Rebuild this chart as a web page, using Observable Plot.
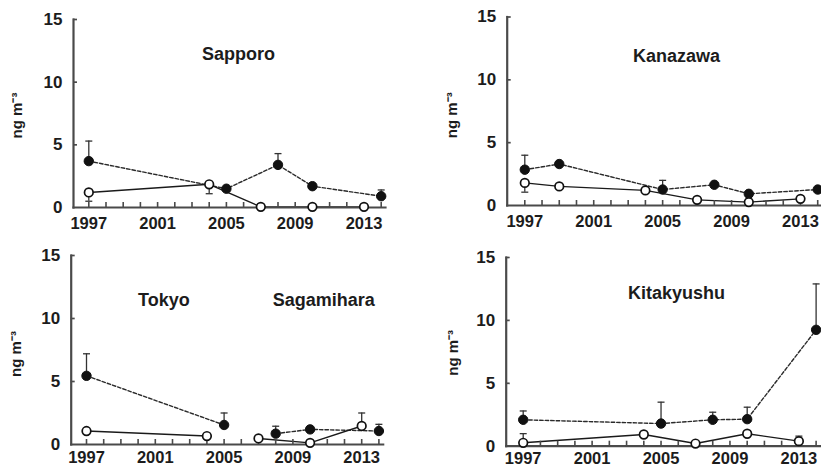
<!DOCTYPE html>
<html>
<head>
<meta charset="utf-8">
<script src="https://cdn.jsdelivr.net/npm/d3@7"></script>
<script src="https://cdn.jsdelivr.net/npm/@observablehq/plot@0.6"></script>
<style>
  body { margin: 0; background: #fff; }
  #chart { position: relative; width: 821px; height: 468px; overflow: hidden; background: #fff; }
  #chart > div { position: absolute; }
  #chart svg { max-width: none !important; }
</style>
</head>
<body>
<div id="chart"></div>
<script>
// ---- data: annual means (ng m-3); "End" arrays give the top/bottom of each error bar ----
const tickYears = d3.range(1997, 2015);
const labelYears = [1997, 2001, 2005, 2009, 2013];
const yTicks = [0, 5, 10, 15];

// Sapporo
const sapporoFilledYears = [1997, 2005, 2008, 2010, 2014];
const sapporoFilled      = [3.7, 1.5, 3.4, 1.7, 0.9];
const sapporoFilledEnd   = [5.3, null, 4.3, null, 1.4];
const sapporoOpenYears   = [1997, 2004, 2007, 2010, 2013];
const sapporoOpen        = [1.2, 1.85, 0.05, 0.05, 0.05];
const sapporoOpenEnd     = [0.5, 1.1, null, null, null];

// Kanazawa
const kanazawaFilledYears = [1997, 1999, 2005, 2008, 2010, 2014];
const kanazawaFilled      = [2.85, 3.3, 1.27, 1.65, 0.93, 1.27];
const kanazawaFilledEnd   = [4.0, null, 2.0, null, null, null];
const kanazawaOpenYears   = [1997, 1999, 2004, 2007, 2010, 2013];
const kanazawaOpen        = [1.8, 1.52, 1.2, 0.45, 0.27, 0.53];
const kanazawaOpenEnd     = [1.06, null, null, null, null, null];

// Tokyo
const tokyoFilledYears = [1997, 2005];
const tokyoFilled      = [5.45, 1.55];
const tokyoFilledEnd   = [7.2, 2.5];
const tokyoOpenYears   = [1997, 2004];
const tokyoOpen        = [1.07, 0.67];
const tokyoOpenEnd     = [null, null];

// Sagamihara
const sagamiharaFilledYears = [2008, 2010, 2014];
const sagamiharaFilled      = [0.86, 1.2, 1.07];
const sagamiharaFilledEnd   = [1.45, null, 1.6];
const sagamiharaOpenYears   = [2007, 2010, 2013];
const sagamiharaOpen        = [0.48, 0.13, 1.47];
const sagamiharaOpenEnd     = [null, null, 2.5];

// Kitakyushu
const kitakyushuFilledYears = [1997, 2005, 2008, 2010, 2014];
const kitakyushuFilled      = [2.1, 1.8, 2.1, 2.15, 9.25];
const kitakyushuFilledEnd   = [2.8, 3.5, 2.7, 3.1, 12.9];
const kitakyushuOpenYears   = [1997, 2004, 2007, 2010, 2013];
const kitakyushuOpen        = [0.27, 0.93, 0.21, 0.99, 0.4];
const kitakyushuOpenEnd     = [1.0, null, null, null, 0.8];

const yLabel = "ng m\u207B\u00B3";

// ---- build tidy rows ----
function rows(site, kind, years, values, ends) {
  return years.map((year, i) => ({site, kind, year, value: values[i], end: ends[i]}));
}
const sites = {
  Sapporo: [
    ...rows("Sapporo", "filled", sapporoFilledYears, sapporoFilled, sapporoFilledEnd),
    ...rows("Sapporo", "open", sapporoOpenYears, sapporoOpen, sapporoOpenEnd)
  ],
  Kanazawa: [
    ...rows("Kanazawa", "filled", kanazawaFilledYears, kanazawaFilled, kanazawaFilledEnd),
    ...rows("Kanazawa", "open", kanazawaOpenYears, kanazawaOpen, kanazawaOpenEnd)
  ],
  Tokyo: [
    ...rows("Tokyo", "filled", tokyoFilledYears, tokyoFilled, tokyoFilledEnd),
    ...rows("Tokyo", "open", tokyoOpenYears, tokyoOpen, tokyoOpenEnd)
  ],
  Sagamihara: [
    ...rows("Sagamihara", "filled", sagamiharaFilledYears, sagamiharaFilled, sagamiharaFilledEnd),
    ...rows("Sagamihara", "open", sagamiharaOpenYears, sagamiharaOpen, sagamiharaOpenEnd)
  ],
  Kitakyushu: [
    ...rows("Kitakyushu", "filled", kitakyushuFilledYears, kitakyushuFilled, kitakyushuFilledEnd),
    ...rows("Kitakyushu", "open", kitakyushuOpenYears, kitakyushuOpen, kitakyushuOpenEnd)
  ]
};

// ---- panel layout (pixels within each panel) ----
const panels = [
  {left: 0,   top: 0,   width: 410, axisX: 73,   x1997: 88.3,  step: 17.2,  y15: 19,   y0: 207,
   labelX: 21, labelDy: 2, pad: 10, titles: [{name: "Sapporo", x: 2005.7, y: 11.8}], sites: ["Sapporo"]},
  {left: 410, top: 0,   width: 430, axisX: 96.7, x1997: 114.3, step: 17.23, y15: 16.5, y0: 205,
   labelX: 47, labelDy: 4, pad: 10, titles: [{name: "Kanazawa", x: 2005.8, y: 11.4}], sites: ["Kanazawa"]},
  {left: 0,   top: 234, width: 410, axisX: 70.7, x1997: 86,    step: 17.2,  y15: 21,   y0: 210,
   labelX: 21, labelDy: 4, pad: 7, titles: [{name: "Tokyo", x: 2001.5, y: 11.0}, {name: "Sagamihara", x: 2010.8, y: 11.0}],
   sites: ["Tokyo", "Sagamihara"]},
  {left: 410, top: 234, width: 430, axisX: 95.7, x1997: 112.7, step: 17.23, y15: 23,   y0: 211.7,
   labelX: 48, labelDy: 1, pad: 6, titles: [{name: "Kitakyushu", x: 2005.9, y: 11.7}], sites: ["Kitakyushu"]}
];

const ink = "#1c1c1c";
const axisInk = "#4a4a4a";
const font = "'Liberation Sans', Arial, Helvetica, sans-serif";

// path symbol for the error-bar caps
const cap = half => ({draw(c) { c.moveTo(-half, 0); c.lineTo(half, 0); }});

const chart = document.getElementById("chart");

for (const p of panels) {
  const data = p.sites.flatMap(s => sites[s]);
  const filled = data.filter(d => d.kind === "filled");
  const open = data.filter(d => d.kind === "open");
  const bars = data.filter(d => d.end != null);
  // the year axis starts at the value axis, a little before 1997
  const xStart = 1997 - (p.x1997 - p.axisX) / p.step;
  const xEnd = 2014.25;
  const height = 234;
  const unit = (p.y0 - p.y15) / 15;

  // short inward ticks, in scale units
  const yTickRows = yTicks.slice(1).map(v => ({v, a: xStart, b: xStart + 4 / p.step}));
  const xTickRows = tickYears.map(t => ({t, a: 0, b: 5 / unit}));

  const plot = Plot.plot({
    width: p.width,
    height,
    marginLeft: p.axisX,
    marginRight: p.width - (p.x1997 + (xEnd - 1997) * p.step),
    marginTop: p.y15,
    marginBottom: height - p.y0,
    x: {domain: [xStart, xEnd]},
    y: {domain: [0, 15]},
    marks: [
      Plot.axisY(yTicks, {tickSize: 0, tickPadding: 11, label: null, fontSize: 17, fontWeight: "bold", fill: ink}),
      Plot.axisX(labelYears, {tickSize: 0, tickPadding: p.pad, label: null, tickFormat: d => String(d), fontSize: 16.5, fontWeight: "bold", fill: ink}),
      Plot.text([yLabel], {text: d => d, frameAnchor: "left", rotate: -90, dx: p.labelX - p.axisX, dy: p.labelDy,
        textAnchor: "middle", lineAnchor: "bottom", fontSize: 15, fontWeight: "bold", fill: ink}),
      // site names
      Plot.text(p.titles, {x: "x", y: "y", text: "name", lineAnchor: "bottom", textAnchor: "middle",
        fontSize: 18, fontWeight: "bold", fill: ink, ariaLabel: "site title"}),
      // series lines (one path per site)
      Plot.line(filled, {x: "year", y: "value", z: "site", stroke: "#2a2a2a", strokeWidth: 1.4, strokeDasharray: "3.5,2"}),
      Plot.line(open, {x: "year", y: "value", z: "site", stroke: "#1a1a1a", strokeWidth: 1.4}),
      // error bars
      Plot.ruleX(bars, {x: "year", y1: "value", y2: "end", stroke: "#333", strokeWidth: 1.3}),
      Plot.dot(bars, {x: "year", y: "end", symbol: cap(3.5), r: 1, fill: "none", stroke: "#333", strokeWidth: 1.3}),
      // axis lines on the left and bottom edges of the frame, with inward ticks
      Plot.frame({anchor: "left", stroke: axisInk, strokeWidth: 2.2}),
      Plot.frame({anchor: "bottom", stroke: axisInk, strokeWidth: 2.2}),
      Plot.ruleY(yTickRows, {y: "v", x1: "a", x2: "b", stroke: axisInk, strokeWidth: 1.7}),
      Plot.ruleX(xTickRows, {x: "t", y1: "a", y2: "b", stroke: axisInk, strokeWidth: 1.6}),
      // points
      Plot.dot(filled, {x: "year", y: "value", r: 4.7, fill: "#111", stroke: "#111", strokeWidth: 1}),
      Plot.dot(open, {x: "year", y: "value", r: 4.3, fill: "#fff", stroke: "#111", strokeWidth: 1.7})
    ]
  });
  plot.style.fontFamily = font;

  const holder = document.createElement("div");
  holder.style.left = p.left + "px";
  holder.style.top = p.top + "px";
  holder.style.width = p.width + "px";
  holder.style.height = height + "px";
  holder.appendChild(plot);
  chart.appendChild(holder);

  // the site names are set in a broad, extended bold face
  d3.select(plot).selectAll('g[aria-label="site title"] text').each(function () {
    const w = this.getComputedTextLength();
    this.setAttribute("textLength", (w * 1.33).toFixed(1));
    this.setAttribute("lengthAdjust", "spacingAndGlyphs");
  });
}
</script>
</body>
</html>
